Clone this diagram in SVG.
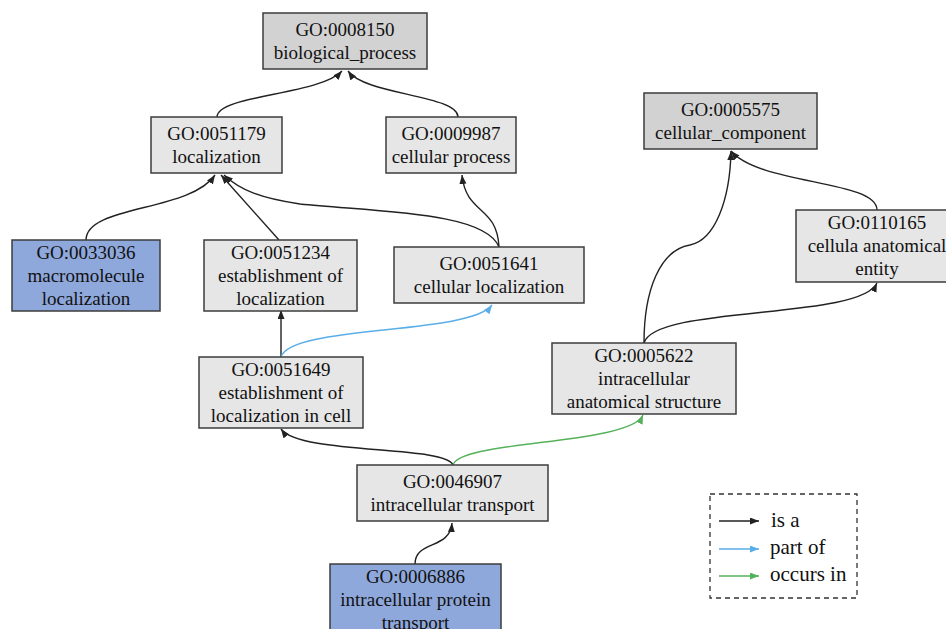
<svg xmlns="http://www.w3.org/2000/svg" width="946" height="629" viewBox="0 0 946 629">
<style>
.n rect{stroke:#3c3c3c;stroke-width:1.5}
.light rect{fill:#e6e6e6}
.dark rect{fill:#d2d2d2}
.blue rect{fill:#8fa8dc}
text{font-family:"Liberation Serif","Times New Roman",serif;font-size:19px;fill:#111;text-anchor:middle}
.e{fill:none;stroke-width:1.4}
.isa{stroke:#222}
.part{stroke:#5aaee8}
.occ{stroke:#55b25a}
.leg{font-size:21px;text-anchor:start}
</style>
<defs>
<marker id="ab" markerUnits="userSpaceOnUse" markerWidth="10" markerHeight="8" refX="9" refY="3.5" orient="auto"><path d="M0,0 L9,3.5 L0,7 z" fill="#222"/></marker>
<marker id="ap" markerUnits="userSpaceOnUse" markerWidth="10" markerHeight="8" refX="9" refY="3.5" orient="auto"><path d="M0,0 L9,3.5 L0,7 z" fill="#5aaee8"/></marker>
<marker id="ag" markerUnits="userSpaceOnUse" markerWidth="10" markerHeight="8" refX="9" refY="3.5" orient="auto"><path d="M0,0 L9,3.5 L0,7 z" fill="#55b25a"/></marker>
</defs>
<rect width="946" height="629" fill="#ffffff"/>
<g id="edges">
<path class="e isa" d="M217,117 C217,95 320,95 342,71" marker-end="url(#ab)"/>
<path class="e isa" d="M458,117 C458,95 365,95 348,71" marker-end="url(#ab)"/>
<path class="e isa" d="M86,240 C86,205 190,212 215,175" marker-end="url(#ab)"/>
<path class="e isa" d="M279,240 L221,175" marker-end="url(#ab)"/>
<path class="e isa" d="M499,247 C485,212 380,212 300,204 C260,198 240,190 224,175" marker-end="url(#ab)"/>
<path class="e isa" d="M499,247 C497,205 466,215 462,175" marker-end="url(#ab)"/>
<path class="e isa" d="M281,357 L281,310" marker-end="url(#ab)"/>
<path class="e part" d="M281,357 C290,325 470,335 492,305" marker-end="url(#ap)"/>
<path class="e isa" d="M644,343 C644,290 660,250 690,245 C715,240 730,200 731,151" marker-end="url(#ab)"/>
<path class="e isa" d="M877,210 C877,180 760,185 731,151" marker-end="url(#ab)"/>
<path class="e isa" d="M644,343 C655,305 860,320 877,283" marker-end="url(#ab)"/>
<path class="e isa" d="M453,465 C445,445 300,455 281,429" marker-end="url(#ab)"/>
<path class="e occ" d="M453,465 C460,440 630,445 643,415" marker-end="url(#ag)"/>
<path class="e isa" d="M415,564 C415,540 450,550 452,523" marker-end="url(#ab)"/>
</g>
<g id="GO0008150" class="n dark"><rect x="263" y="13" width="164" height="56"/><text x="345" y="36">GO:0008150</text><text x="345" y="59">biological_process</text></g>
<g id="GO0051179" class="n light"><rect x="151" y="117" width="131" height="56"/><text x="216.5" y="140">GO:0051179</text><text x="216.5" y="163">localization</text></g>
<g id="GO0009987" class="n light"><rect x="386" y="117" width="130" height="56"/><text x="451" y="140">GO:0009987</text><text x="451" y="163">cellular process</text></g>
<g id="GO0005575" class="n dark"><rect x="644" y="93" width="173" height="56"/><text x="730.5" y="116">GO:0005575</text><text x="730.5" y="139">cellular_component</text></g>
<g id="GO0110165" class="n light"><rect x="796" y="210" width="162" height="72"/><text x="877" y="229">GO:0110165</text><text x="877" y="252">cellula anatomical</text><text x="877" y="275">entity</text></g>
<g id="GO0033036" class="n blue"><rect x="12" y="240" width="148" height="71"/><text x="86" y="259">GO:0033036</text><text x="86" y="282">macromolecule</text><text x="86" y="305">localization</text></g>
<g id="GO0051234" class="n light"><rect x="204" y="240" width="153" height="71"/><text x="280.5" y="259">GO:0051234</text><text x="280.5" y="282">establishment of</text><text x="280.5" y="305">localization</text></g>
<g id="GO0051641" class="n light"><rect x="394" y="247" width="190" height="56"/><text x="489" y="270">GO:0051641</text><text x="489" y="293">cellular localization</text></g>
<g id="GO0051649" class="n light"><rect x="199" y="357" width="164" height="71"/><text x="281" y="376">GO:0051649</text><text x="281" y="399">establishment of</text><text x="281" y="422">localization in cell</text></g>
<g id="GO0005622" class="n light"><rect x="552" y="343" width="184" height="71"/><text x="644" y="362">GO:0005622</text><text x="644" y="385">intracellular</text><text x="644" y="408">anatomical structure</text></g>
<g id="GO0046907" class="n light"><rect x="357" y="465" width="191" height="56"/><text x="452.5" y="488">GO:0046907</text><text x="452.5" y="511">intracellular transport</text></g>
<g id="GO0006886" class="n blue"><rect x="330" y="564" width="171" height="72"/><text x="415.5" y="583">GO:0006886</text><text x="415.5" y="606">intracellular protein</text><text x="415.5" y="629">transport</text></g>
<g id="legend">
<rect x="710" y="494" width="147" height="104" fill="none" stroke="#333" stroke-width="1.3" stroke-dasharray="5,4"/>
<path class="e isa" d="M719,521 L759,521" marker-end="url(#ab)"/>
<path class="e part" d="M719,549 L759,549" marker-end="url(#ap)"/>
<path class="e occ" d="M719,576 L759,576" marker-end="url(#ag)"/>
<text class="leg" x="771" y="527">is a</text>
<text class="leg" x="770" y="554">part of</text>
<text class="leg" x="770" y="581">occurs in</text>
</g>
</svg>
